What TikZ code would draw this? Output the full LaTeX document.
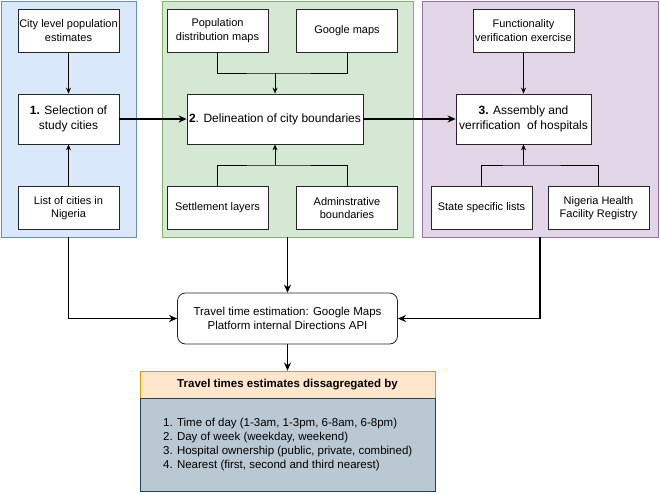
\documentclass[tikz,border=0pt]{standalone}
\usepackage{fontspec}
\setmainfont{Liberation Sans}
\usepackage{xcolor}
\usepackage{tikz}
\usetikzlibrary{calc, positioning, arrows.meta, backgrounds}

\definecolor{fillblue}{HTML}{DAE8FC}
\definecolor{lineblue}{HTML}{6C8EBF}
\definecolor{fillgreen}{HTML}{D5E8D4}
\definecolor{linegreen}{HTML}{82B366}
\definecolor{fillpurple}{HTML}{E1D5E7}
\definecolor{linepurple}{HTML}{9673A6}
\definecolor{fillhead}{HTML}{FFE6CC}
\definecolor{linehead}{HTML}{D79B00}
\definecolor{fillbody}{HTML}{BAC8D3}
\definecolor{linebody}{HTML}{23445D}

\begin{document}
\begin{tikzpicture}[x=1pt,y=-1pt,-,auto,
                    panel/.style={rectangle,draw,line width=0.8pt,minimum height=236pt,inner sep=0pt},
                    main node/.style={rectangle,fill=white,draw=black!85,line width=0.8pt,font=\fontsize{11}{13.5}\selectfont,align=center,minimum width=101pt,minimum height=43pt,inner sep=0pt},
                    step node/.style={main node,minimum height=50pt,font=\fontsize{12}{14.5}\selectfont},
                    link/.style={line width=0.8pt},
                    small arrow/.style={-{Stealth[length=6pt,width=5pt]},line width=0.8pt},
                    flow/.style={-{Stealth[length=8pt,width=7pt]},line width=1.3pt}]
 \useasboundingbox (0,0) rectangle (660,493);

 \foreach \name/\cx/\w/\col in {BluePanel/68.5/135pt/blue,GreenPanel/287.5/251pt/green,PurplePanel/540/236pt/purple}
    \node[panel,fill=fill\col,draw=line\col,minimum width=\w] (\name) at (\cx,119) {};

 % stage 1
 \node[main node] (CityPop) at (68.5,30.5) {City level population\\estimates};
 \node[step node] (Selection) at (68.5,119) {\textbf{1.} Selection of\\study cities};
 \node[main node] (CityList) at (68.5,208) {List of cities in\\Nigeria};

 % stage 2
 \node[main node] (PopMaps) at (217.5,30.5) {Population\\distribution maps};
 \node[main node] (GoogleMaps) at (347,30.5) {Google maps};
 \node[step node,minimum width=176pt] (Delineation) at (275,119) {\textbf{2}. Delineation of city boundaries};
 \node[main node] (Settlement) at (217.5,208) {Settlement layers};
 \node[main node] (AdminBound) at (347,208) {Adminstrative\\boundaries};

 % stage 3
 \node[main node] (Functionality) at (523.5,30.5) {Functionality\\verification exercise};
 \node[step node,minimum width=135pt] (Assembly) at (523.5,119) {\textbf{3.} Assembly and\\verrification\ \ of hospitals};
 \node[main node] (StateLists) at (481.5,208) {State specific lists};
 \node[main node] (Registry) at (598.5,208) {Nigeria Health\\Facility Registry};

 \node[main node,rounded corners=8pt,minimum width=220pt,minimum height=51pt,font=\fontsize{11.5}{14}\selectfont] (Travel) at (287.5,318.5) {Travel time estimation: Google Maps\\Platform internal Directions API};

 \node[rectangle,fill=fillhead,draw=linehead,line width=0.8pt,minimum width=295pt,minimum height=27pt,font=\fontsize{11.5}{13}\selectfont\bfseries] (Header) at (287.5,384.5) {Travel times estimates dissagregated by};
 \node[rectangle,fill=fillbody,draw=linebody,line width=0.8pt,minimum width=295pt,minimum height=93pt] (Summary) at (287.5,444.5) {};
 \node[anchor=west,align=left,inner sep=0pt,font=\fontsize{11.5}{14}\selectfont] (SummaryText) at (163,444.5)
   {1. Time of day (1-3am, 1-3pm, 6-8am, 6-8pm)\\
    2. Day of week (weekday, weekend)\\
    3. Hospital ownership (public, private, combined)\\
    4. Nearest (first, second and third nearest)};

 \coordinate (DelTop) at (275,73);
 \coordinate (DelBottom) at (275,165);
 \coordinate (AsmBottom) at (523.5,165);

 \draw[small arrow] (CityPop) -- (Selection);
 \draw[small arrow] (CityList) -- (Selection);
 \draw[link] (PopMaps.south) |- (DelTop) -| (GoogleMaps.south);
 \draw[small arrow] (DelTop) -- (Delineation.north);
 \draw[link] (Settlement.north) |- (DelBottom) -| (AdminBound.north);
 \draw[small arrow] (DelBottom) -- (Delineation.south);
 \draw[small arrow] (Functionality) -- (Assembly);
 \draw[link] (StateLists.north) |- (AsmBottom) -| (Registry.north);
 \draw[small arrow] (AsmBottom) -- (Assembly.south);

 \draw[flow] (Selection) -- (Delineation);
 \draw[flow] (Delineation) -- (Assembly);
 \draw[flow] (BluePanel.south) |- (Travel.west);
 \draw[flow] (GreenPanel.south) -- (Travel.north);
 \draw[flow] (PurplePanel.south) |- (Travel.east);
 \draw[flow] (Travel) -- (Header);

\end{tikzpicture}
\end{document}
